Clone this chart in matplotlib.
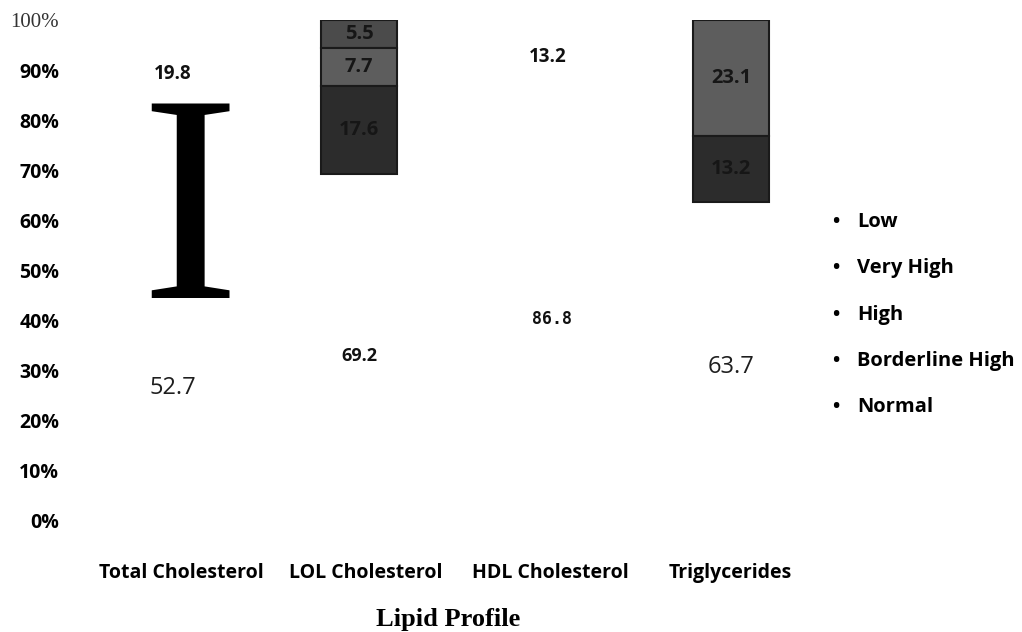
import matplotlib.pyplot as plt
import matplotlib.transforms as mtransforms
import numpy as np

# lipid profile categories and percentage shares per risk level
categories = ["Total Cholesterol", "LOL Cholesterol", "HDL Cholesterol", "Triglycerides"]
normal = [52.7, 69.2, 86.8, 63.7]
borderline_high = [0, 17.6, 0, 13.2]
high = [0, 7.7, 0, 23.1]
very_high = [0, 5.5, 0, 0]
low = [19.8, 0, 13.2, 0]

legend_labels = ["Low", "Very High", "High", "Borderline High", "Normal"]
y_ticks = [0, 10, 20, 30, 40, 50, 60, 70, 80, 90, 100]

sans = "Open Sans"
serif = "Liberation Serif"

fig = plt.figure(figsize=(10.22, 6.32), dpi=100)
ax = fig.add_axes([80 / 1022, 0.177, 744 / 1022, 0.791])

x = np.arange(len(categories))
width = 0.41

# normal share stacks up from 0
ax.bar(x, normal, width, color="white", edgecolor="none")
normal_style = [
    dict(fontsize=17, family=sans, color="#1e1e1e"),
    dict(fontsize=13, family=sans, fontweight="bold", color="#111111"),
    dict(fontsize=12, family="DejaVu Sans Mono", fontweight="bold", color="#111111"),
    dict(fontsize=17, family=sans, color="#1e1e1e"),
]
normal_dy = [0, -1.8, -3.2, -1.2]
normal_dx = [0, 0, 0.04, 0]
for i, v in enumerate(normal):
    ax.text(x[i] + normal_dx[i], v / 2 + normal_dy[i], f"{v}", ha="center",
            va="center", **normal_style[i])

# the other levels stack down from the 100% line
series = [
    (low, "white", "none"),
    (very_high, "#4b4b4b", "#1a1a1a"),
    (high, "#5d5d5d", "#1a1a1a"),
    (borderline_high, "#2c2c2c", "#1a1a1a"),
]
top = np.full(len(categories), 100.0)
for vals, color, edge in series:
    vals = np.array(vals, dtype=float)
    bottom = top - vals
    for i in range(len(categories)):
        if vals[i] <= 0:
            continue
        ax.bar(x[i], vals[i], width, bottom=bottom[i], color=color,
               edgecolor=edge, linewidth=1.5)
        if color == "white":
            ax.text(x[i] + (0.015 if i == 2 else 0), bottom[i] + vals[i] / 2 - 0.8,
                    f"{vals[i]}", ha="center", va="center", fontsize=13.5,
                    family=sans, fontweight="bold", color="#111111")
        else:
            ax.text(x[i], bottom[i] + vals[i] / 2, f"{vals[i]}",
                    ha="center", va="center", fontsize=14.5, family=sans,
                    fontweight="bold", color="#161616")
    top = bottom

# large serif glyph over the first column
ax.text(x[0] + 0.09, 44.4, "I", ha="center", va="baseline",
        fontsize=214, family=serif, color="black")

ax.set_xlim(-0.5, 3.5)
ax.set_ylim(0, 100)
ax.set_yticks(y_ticks)
ax.set_yticklabels([f"{t}%" for t in y_ticks])
for t, lab in zip(y_ticks, ax.get_yticklabels()):
    if t == 100:
        lab.set_family(serif)
        lab.set_fontsize(15)
        lab.set_color("#333333")
    else:
        lab.set_family(sans)
        lab.set_fontweight("bold")
        lab.set_fontsize(14)
ax.tick_params(axis="y", length=0, pad=15)

ax.set_xticks(x)
ax.set_xticklabels(categories, family=sans, fontweight="bold", fontsize=14)
ax.tick_params(axis="x", length=0, pad=31)
# nudge category labels sideways a little
for lab, dx in zip(ax.get_xticklabels(), [8, 7, 5, -1]):
    lab.set_transform(lab.get_transform()
                      + mtransforms.ScaledTranslation(dx / 100, 0, fig.dpi_scale_trans))

ax.set_xlabel("Lipid Profile", family=serif, fontweight="bold", fontsize=19)
ax.xaxis.set_label_coords(0.495, -0.176)

for s in ax.spines.values():
    s.set_visible(False)

# legend as a bullet list on the right
for k, name in enumerate(legend_labels):
    yy = 1 - (222 + 46.3 * k) / 632
    fig.text(836 / 1022, yy, "•", ha="center", va="center", fontsize=14,
             family=sans, fontweight="bold")
    fig.text(857 / 1022, yy, name, ha="left", va="center", fontsize=14.5,
             family=sans, fontweight="bold")

fig.savefig("out.png", dpi=100)
